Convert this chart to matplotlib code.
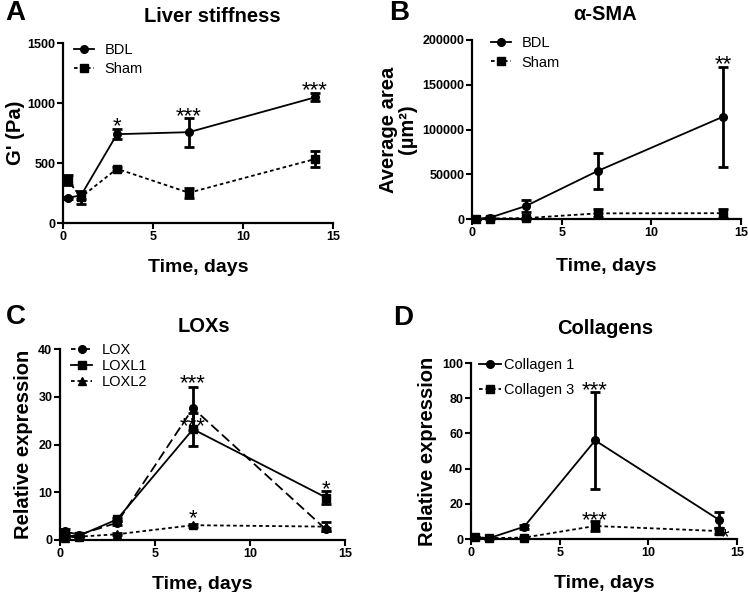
import matplotlib
matplotlib.use("Agg")
import matplotlib.pyplot as plt
from matplotlib.lines import Line2D

plt.rcParams['font.family'] = ['Liberation Sans', 'DejaVu Sans']

W, H = 748, 592

# ---------------- data ----------------
days = [0.25, 1, 3, 7, 14]

# A: Liver stiffness
a_bdl = [210, 230, 740, 757, 1047]
a_bdl_err = [10, 30, 40, 120, 33]
a_sham = [358, 215, 452, 252, 533]
a_sham_err = [40, 55, 15, 42, 70]
a_stars = [(3, 872, "*"), (7, 955, "***"), (14, 1164, "***")]

# B: alpha-SMA
b_bdl = [200, 1500, 14500, 53600, 114300]
b_bdl_err = [300, 800, 6500, 20500, 56000]
b_sham = [200, 500, 1000, 6300, 6500]
b_sham_err = [300, 400, 600, 4500, 5000]
b_stars = [(14, 181000, "**")]

# C: LOXs
c_lox = [1.8, 1.1, 3.6, 27.6, 2.2]
c_lox_err = [0.4, 0.3, 0.4, 4.5, 0.4]
c_loxl1 = [0.8, 0.9, 4.3, 23.2, 8.9]
c_loxl1_err = [0.2, 0.2, 0.4, 3.5, 1.4]
c_loxl2 = [0.5, 0.7, 1.2, 3.1, 2.8]
c_loxl2_err = [0.1, 0.1, 0.2, 0.3, 1.0]
c_stars = [(7, 34.3, "***"), (7, 25.3, "***"), (7, 6.0, "*"), (14, 12.2, "*")]

# D: Collagens
d_col1 = [1.0, 0.4, 7.0, 56.0, 10.8]
d_col1_err = [0.3, 0.2, 1.2, 27.5, 4.5]
d_col3 = [1.0, 0.5, 0.8, 7.4, 4.5]
d_col3_err = [0.2, 0.2, 0.3, 3.0, 1.5]
d_stars = [(7, 88.5, "***"), (7, 15.0, "***"), (14.3, 5.0, "*")]

# ---------------- figure ----------------
fig = plt.figure(figsize=(W / 100, H / 100), dpi=100)


def ax_px(left, right, top, bottom):
    return fig.add_axes([left / W, 1 - bottom / H, (right - left) / W, (bottom - top) / H])


def style(ax, xlim, ylim, yticks):
    ax.set_xlim(*xlim)
    ax.set_ylim(*ylim)
    ax.set_xticks([0, 5, 10, 15])
    ax.set_yticks(yticks)
    for s in ["top", "right"]:
        ax.spines[s].set_visible(False)
    for s in ["left", "bottom"]:
        ax.spines[s].set_linewidth(1.6)
    ax.tick_params(width=1.5, length=4, labelsize=9, pad=1.5)
    for lab in ax.get_xticklabels() + ax.get_yticklabels():
        lab.set_fontweight("bold")
    ax.patch.set_alpha(0)


EB = dict(ecolor="black", elinewidth=2.0, capsize=3.4, capthick=2.0, color="black", clip_on=False)
SOLID = "-"
SHORT = (0, (2.0, 1.6))
LONG = (0, (5.5, 2.5))


def series(ax, y, err, ls, marker, ms, z=3):
    ax.errorbar(days, y, yerr=err, linestyle=ls, linewidth=1.3, marker=marker, markersize=ms,
                markerfacecolor="black", markeredgecolor="black", zorder=z, **EB)


def handle(ls, marker, ms):
    return Line2D([], [], color="black", linestyle=ls, linewidth=1.3, marker=marker,
                  markersize=ms, markerfacecolor="black", markeredgecolor="black")


def legend(ax, handles, labels, x, y, spacing=0.35, hl=1.4, pad=0.7):
    ax.legend(handles, labels, loc="upper left", bbox_to_anchor=(x, y), frameon=False,
              fontsize=10.5, handlelength=hl, handletextpad=pad, labelspacing=spacing,
              borderaxespad=0, borderpad=0)


def stars(ax, lst, fs=16):
    for x, y, t in lst:
        ax.annotate(t, (x, y), xytext=(0, -0.6 * fs), textcoords="offset points",
                    ha="center", va="baseline", fontsize=fs, zorder=6, annotation_clip=False)


# Panel A
axA = ax_px(63, 333, 43, 223)
series(axA, a_bdl, a_bdl_err, SOLID, "o", 5.5)
series(axA, a_sham, a_sham_err, SHORT, "s", 6)
style(axA, (0, 15), (0, 1500), [0, 500, 1000, 1500])
legend(axA, [handle(SOLID, "o", 5.5), handle(SHORT, "s", 6)], ["BDL", "Sham"], 0.04, 1.0)
stars(axA, a_stars)
axA.set_xlabel("Time, days", fontsize=14, fontweight="bold", labelpad=12)
axA.set_ylabel("G' (Pa)", fontsize=14.5, fontweight="bold", labelpad=2)

# Panel B
axB = ax_px(472, 741, 40, 219)
series(axB, b_bdl, b_bdl_err, SOLID, "o", 5.5)
series(axB, b_sham, b_sham_err, SHORT, "s", 6)
style(axB, (0, 15), (0, 200000), [0, 50000, 100000, 150000, 200000])
legend(axB, [handle(SOLID, "o", 5.5), handle(SHORT, "s", 6)], ["BDL", "Sham"], 0.07, 1.02)
stars(axB, b_stars)
axB.set_xlabel("Time, days", fontsize=14, fontweight="bold", labelpad=14)
axB.set_ylabel("Average area\n(µm²)", fontsize=14.5, fontweight="bold", labelpad=4,
               linespacing=1.0)

# Panel C
axC = ax_px(60, 345, 349, 540)
series(axC, c_lox, c_lox_err, LONG, "o", 5.5)
series(axC, c_loxl1, c_loxl1_err, SOLID, "s", 6)
series(axC, c_loxl2, c_loxl2_err, SHORT, "^", 6)
style(axC, (0, 15), (0, 40), [0, 10, 20, 30, 40])
legend(axC, [handle((0, (2.5, 1.5)), "o", 5.5), handle(SOLID, "s", 6), handle(SHORT, "^", 6)],
       ["LOX", "LOXL1", "LOXL2"], 0.04, 1.03, spacing=0.12)
stars(axC, c_stars)
axC.set_xlabel("Time, days", fontsize=14, fontweight="bold", labelpad=12)
axC.set_ylabel("Relative expression", fontsize=14.5, fontweight="bold", labelpad=4)

# Panel D
axD = ax_px(471, 737, 363, 539)
series(axD, d_col1, d_col1_err, SOLID, "o", 5.5)
series(axD, d_col3, d_col3_err, SHORT, "s", 6)
style(axD, (0, 15), (0, 100), [0, 20, 40, 60, 80, 100])
legend(axD, [handle(SOLID, "o", 5.5), handle(SHORT, "s", 6)], ["Collagen 1", "Collagen 3"],
       0.03, 1.03, spacing=0.75, hl=1.5, pad=0.2)
stars(axD, d_stars)
axD.set_xlabel("Time, days", fontsize=14, fontweight="bold", labelpad=12)
axD.set_ylabel("Relative expression", fontsize=14.5, fontweight="bold", labelpad=4)


# titles and panel letters
def ftext(x, y, s, **kw):
    fig.text(x / W, 1 - y / H, s, ha="center", va="center", **kw)


ftext(212, 17, "Liver stiffness", fontsize=14.5, fontweight="bold")
ftext(605, 15, "α-SMA", fontsize=14.5, fontweight="bold")
ftext(204, 327, "LOXs", fontsize=14.5, fontweight="bold")
ftext(605, 328, "Collagens", fontsize=14.5, fontweight="bold")

ftext(15, 13, "A", fontsize=20, fontweight="bold")
ftext(399, 13, "B", fontsize=20, fontweight="bold")
ftext(16, 317, "C", fontsize=20, fontweight="bold")
ftext(403, 318, "D", fontsize=20, fontweight="bold")

fig.savefig("out.png", dpi=100)
